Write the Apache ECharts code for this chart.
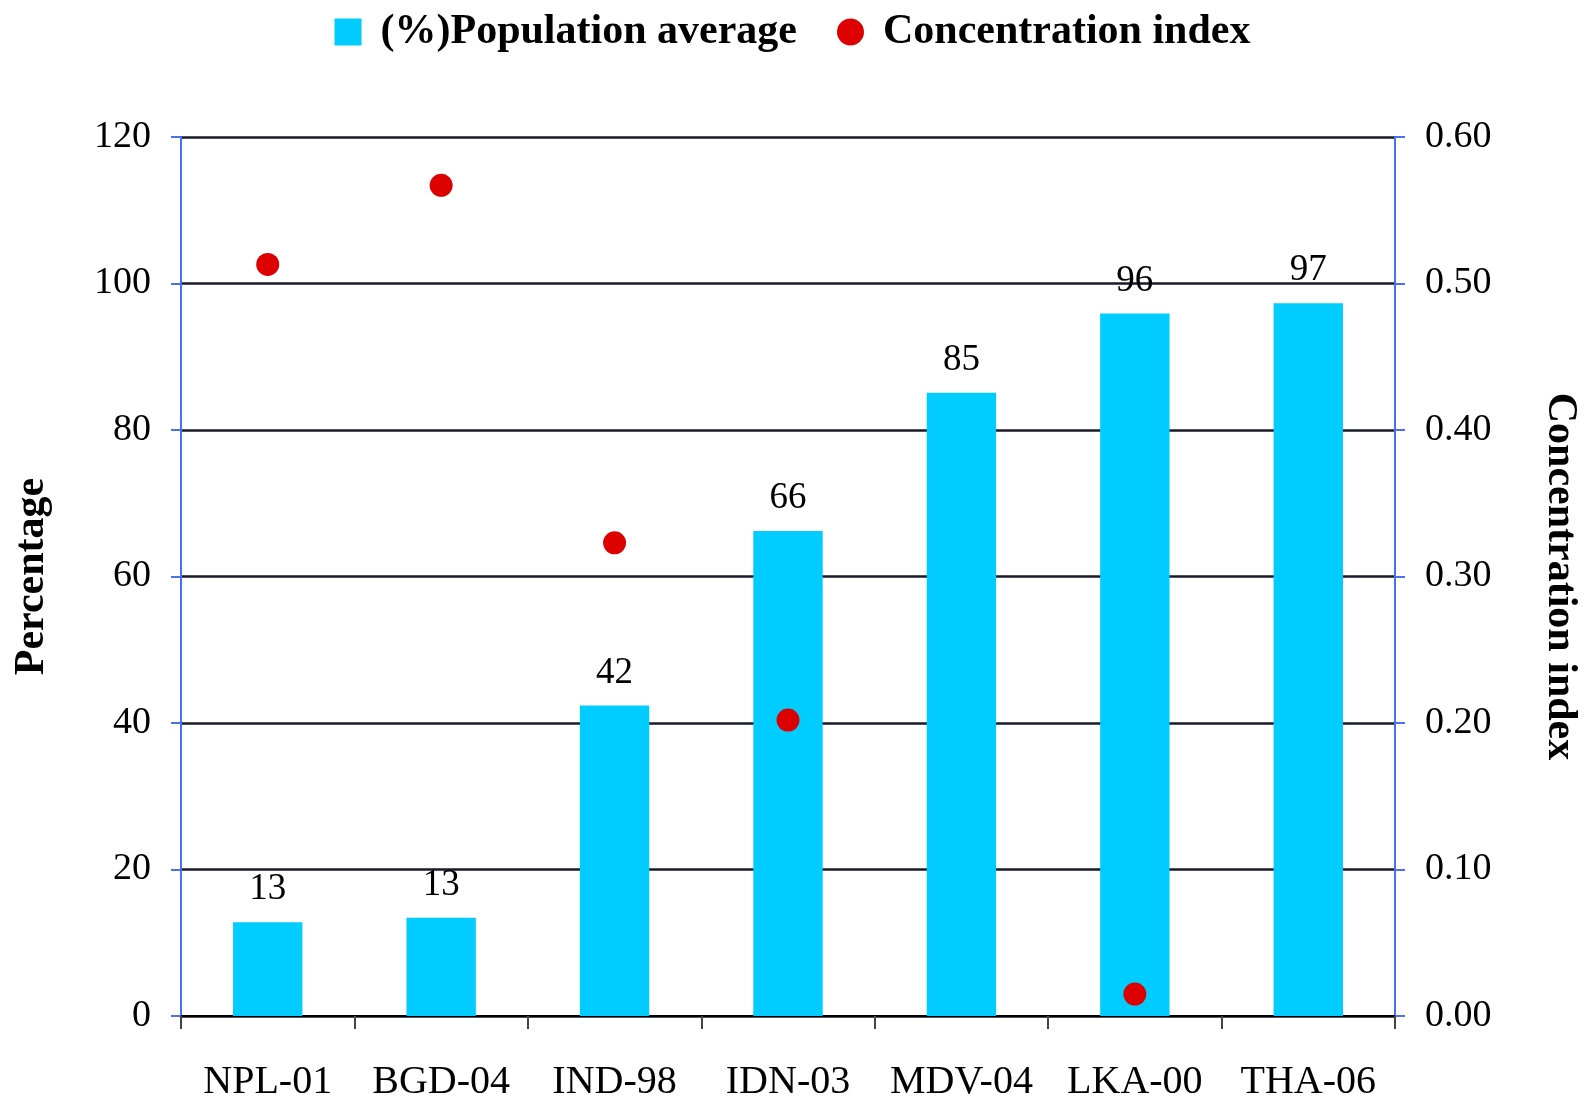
<!DOCTYPE html>
<html>
<head>
<meta charset="utf-8">
<script src="https://cdn.jsdelivr.net/npm/echarts@6/dist/echarts.min.js"></script>
<style>
  html, body { margin: 0; padding: 0; background: #fff; }
  #main { width: 1585px; height: 1099px; }
</style>
</head>
<body>
<div id="main"></div>
<script>
// data
const countries = ["NPL-01", "BGD-04", "IND-98", "IDN-03", "MDV-04", "LKA-00", "THA-06"];
const populationAvg = [12.8, 13.4, 42.4, 66.2, 85.1, 95.9, 97.3];
const concentrationIdx = [0.513, 0.567, 0.323, 0.202, null, 0.015, null];

const FONT = "'Liberation Serif', 'DejaVu Serif', serif";
const blueAxis = "#4a6ff0";

const chart = echarts.init(document.getElementById("main"));

chart.setOption({
    backgroundColor: "#fff",
    animation: false,
    textStyle: { fontFamily: FONT, color: "#000" },
    legend: {
        top: 6,
        left: "center",
        itemWidth: 27,
        itemHeight: 27,
        itemGap: 40,
        textStyle: {
            fontFamily: FONT, fontSize: 42, fontWeight: "bold", color: "#000",
            padding: [0, 0, 0, 14]
        },
        data: [
            { name: "(%)Population average", icon: "rect" },
            { name: "Concentration index", icon: "circle" }
        ]
    },
    grid: { left: 181, right: 190, top: 137, bottom: 83, outerBoundsMode: "none" },
    xAxis: {
        type: "category",
        data: countries,
        axisLine: { lineStyle: { color: "#000", width: 2 } },
        axisTick: { show: true, interval: 0, length: 13, lineStyle: { color: "#444", width: 2 } },
        axisLabel: { interval: 0, fontFamily: FONT, fontSize: 40, color: "#000", margin: 46 }
    },
    yAxis: [
        {
            type: "value",
            min: 0, max: 120, interval: 20,
            name: "Percentage",
            nameLocation: "middle",
            nameGap: 128,
            nameTextStyle: { fontFamily: FONT, fontSize: 42, fontWeight: "bold", color: "#000" },
            axisLine: { show: true, lineStyle: { color: blueAxis, width: 2 } },
            axisTick: { show: true, length: 10, lineStyle: { color: blueAxis, width: 2 } },
            axisLabel: { fontFamily: FONT, fontSize: 38, color: "#000", margin: 30 },
            splitLine: { show: true, lineStyle: { color: "#1a1a2a", width: 2.5 } }
        },
        {
            type: "value",
            min: 0, max: 0.6, interval: 0.1,
            position: "right",
            name: "Concentration index",
            nameLocation: "middle",
            nameGap: 144,
            nameRotate: -90,
            nameTextStyle: { fontFamily: FONT, fontSize: 42, fontWeight: "bold", color: "#000" },
            axisLine: { show: true, lineStyle: { color: blueAxis, width: 2 } },
            axisTick: { show: true, length: 10, lineStyle: { color: blueAxis, width: 2 } },
            axisLabel: {
                fontFamily: FONT, fontSize: 38, color: "#000", margin: 30,
                formatter: v => v.toFixed(2)
            },
            splitLine: { show: false }
        }
    ],
    series: [
        {
            name: "(%)Population average",
            type: "bar",
            data: populationAvg,
            barWidth: "40%",
            itemStyle: { color: "#00ccff" },
            label: {
                show: true,
                position: "top",
                distance: 14,
                fontFamily: FONT,
                fontSize: 37,
                color: "#000",
                formatter: p => Math.round(p.value)
            }
        },
        {
            name: "Concentration index",
            type: "scatter",
            yAxisIndex: 1,
            data: concentrationIdx,
            symbol: "circle",
            symbolSize: 23,
            itemStyle: { color: "#dd0000", opacity: 1 },
            z: 5
        }
    ]
});
</script>
</body>
</html>
